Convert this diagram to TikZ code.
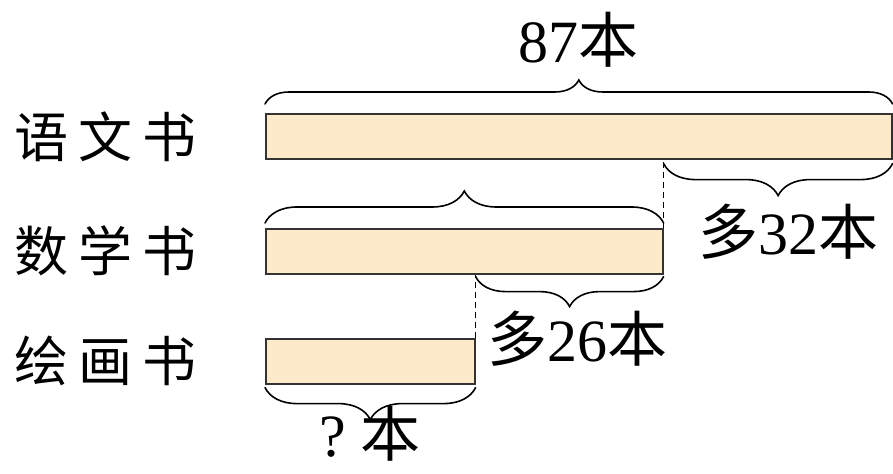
\documentclass[tikz,border=0pt]{standalone}
\usepackage{fontspec}
\setmainfont{Liberation Serif}
\newfontfamily\cjk{Noto Sans CJK SC}
\usepackage{tikz}
\usetikzlibrary{calc,positioning,decorations.pathreplacing}
\definecolor{barfill}{HTML}{FDEACB}
\definecolor{barline}{HTML}{333333}

\begin{document}
\begin{tikzpicture}[x=0.5pt,y=-0.5pt,
    every node/.style={font=\fontsize{30}{32}\selectfont, inner sep=0pt},
    bar/.style={draw=barline, fill=barfill, line width=0.8pt, minimum height=22.5pt, anchor=north west},
    lbl/.style={font=\cjk\fontsize{27}{29}\selectfont},
    brc/.style={decorate, decoration={brace, amplitude=#1}, line width=0.8pt, line cap=round},
    dashline/.style={dash pattern=on 3pt off 2pt, line width=0.6pt}]
    \useasboundingbox (0,0) rectangle (893,474);

    % bars
    \node[bar, minimum width=313pt]   (yuwen)  at (265,113) {};
    \node[bar, minimum width=198.5pt] (shuxue) at (265,228) {};
    \node[bar, minimum width=104.5pt] (huihua) at (265,338) {};

    % names
    \node[lbl, left=34pt of yuwen]  (nyw) {语\hspace{5pt}文\hspace{5pt}书};
    \node[lbl, left=34pt of shuxue] (nsx) {数\hspace{5pt}学\hspace{5pt}书};
    \node[lbl, left=34pt of huihua] (nhh) {绘\hspace{5pt}画\hspace{5pt}书};

    % braces
    \draw[brc=12pt] ([yshift=4.5pt]yuwen.north west) -- ([yshift=4.5pt]yuwen.north east)
        node[midway, above=18pt] (total) {87{\cjk 本}};
    \draw[brc=16pt] ([yshift=-2pt]yuwen.south east) -- ([yshift=-2pt]yuwen.south -| shuxue.east)
        node[midway, below=20pt, xshift=5pt] (more1) {{\cjk 多}32{\cjk 本}};
    \draw[brc=16pt] ([yshift=2.5pt]shuxue.north west) -- ([yshift=2.5pt]shuxue.north east);
    \draw[brc=15pt] ([yshift=-1pt]shuxue.south east) -- ([yshift=-1pt]shuxue.south -| huihua.east)
        node[midway, below=17pt, xshift=4pt] (more2) {{\cjk 多}26{\cjk 本}};
    \draw[brc=16pt] ([yshift=-1.5pt]huihua.south east) -- ([yshift=-1.5pt]huihua.south west)
        node[midway, below=9pt] (ask) {?\hspace{7pt}{\cjk 本}};

    % dashed guides
    \draw[dashline] (shuxue.north east) -- (shuxue.north east |- yuwen.south);
    \draw[dashline] (huihua.north east) -- (huihua.north east |- shuxue.south);
\end{tikzpicture}
\end{document}
